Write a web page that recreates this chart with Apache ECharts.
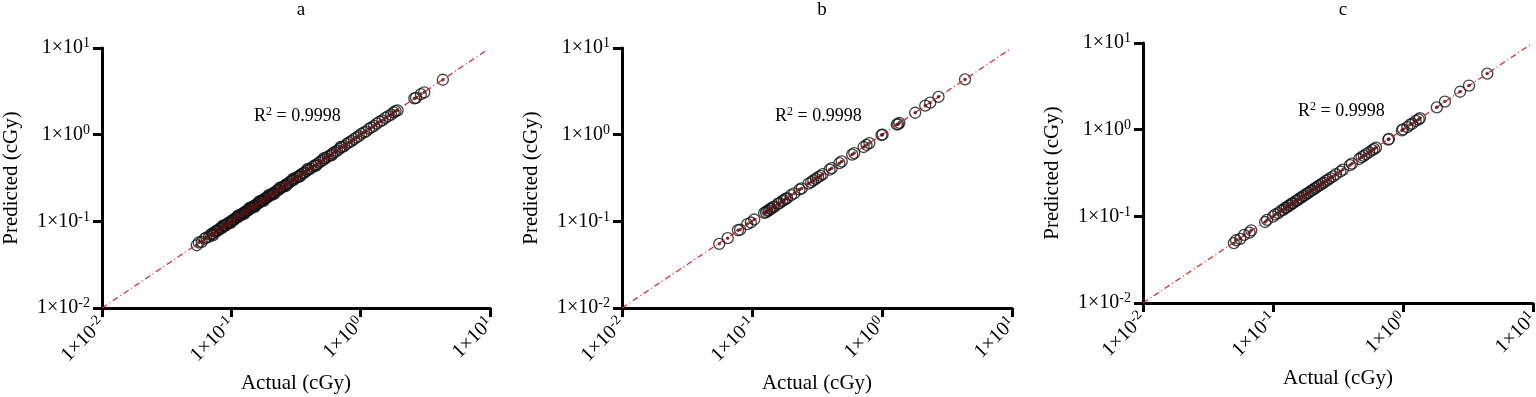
<!DOCTYPE html>
<html>
<head>
<meta charset="utf-8">
<script src="https://cdn.jsdelivr.net/npm/echarts@6/dist/echarts.min.js"></script>
<style>
  html, body { margin: 0; padding: 0; background: #fff; }
  #chart { width: 1536px; height: 397px; }
</style>
</head>
<body>
<div id="chart"></div>
<script>
// panel titles and fit text
var panelNames = ['a', 'b', 'c'];
var r2Values = ['0.9998', '0.9998', '0.9998'];
var fitLine = [0.01, 9.5];

// panel a
var actualA = [0.054, 0.056, 0.059, 0.062, 0.064, 0.067, 0.069, 0.071, 0.073, 0.075,
  0.077, 0.079, 0.081, 0.083, 0.085, 0.087, 0.089, 0.091, 0.093, 0.095,
  0.098, 0.100, 0.103, 0.105, 0.107, 0.110, 0.112, 0.114, 0.117, 0.119,
  0.122, 0.124, 0.127, 0.129, 0.132, 0.135, 0.138, 0.141, 0.144, 0.147,
  0.150, 0.153, 0.156, 0.160, 0.163, 0.167, 0.171, 0.175, 0.179, 0.183,
  0.187, 0.191, 0.196, 0.201, 0.206, 0.211, 0.216, 0.222, 0.228, 0.234,
  0.240, 0.247, 0.254, 0.261, 0.268, 0.276, 0.284, 0.293, 0.302, 0.312,
  0.322, 0.333, 0.344, 0.356, 0.368, 0.381, 0.395, 0.410, 0.425, 0.441,
  0.458, 0.476, 0.495, 0.515, 0.536, 0.558, 0.581, 0.605, 0.630, 0.657,
  0.685, 0.715, 0.746, 0.779, 0.813, 0.849, 0.887, 0.927, 0.968, 1.01,
  1.06, 1.10, 1.16, 1.21, 1.27, 1.33, 1.40, 1.47, 1.55, 1.63,
  1.72, 1.80, 1.86, 1.93, 2.60, 2.68, 2.92, 3.10, 4.32,
  0.072, 0.086, 0.099, 0.113, 0.126, 0.139, 0.152, 0.165, 0.178, 0.194,
  0.213, 0.237, 0.265, 0.298, 0.340, 0.390, 0.450, 0.520, 0.600, 0.700];
var predictedA = [0.053, 0.057, 0.058, 0.063, 0.065, 0.066, 0.070, 0.072, 0.072, 0.076,
  0.078, 0.078, 0.082, 0.084, 0.084, 0.088, 0.090, 0.090, 0.094, 0.096,
  0.097, 0.101, 0.104, 0.104, 0.108, 0.111, 0.111, 0.115, 0.118, 0.118,
  0.123, 0.125, 0.126, 0.130, 0.133, 0.134, 0.139, 0.142, 0.143, 0.148,
  0.151, 0.152, 0.157, 0.161, 0.162, 0.168, 0.172, 0.174, 0.180, 0.184,
  0.186, 0.192, 0.197, 0.199, 0.207, 0.212, 0.214, 0.223, 0.229, 0.232,
  0.241, 0.248, 0.252, 0.262, 0.269, 0.274, 0.285, 0.294, 0.299, 0.313,
  0.323, 0.330, 0.345, 0.357, 0.365, 0.382, 0.396, 0.406, 0.426, 0.442,
  0.454, 0.477, 0.496, 0.510, 0.537, 0.559, 0.576, 0.606, 0.631, 0.651,
  0.686, 0.716, 0.739, 0.780, 0.814, 0.841, 0.888, 0.928, 0.960, 1.02,
  1.06, 1.09, 1.17, 1.21, 1.26, 1.34, 1.41, 1.46, 1.56, 1.64,
  1.70, 1.81, 1.87, 1.91, 2.62, 2.66, 2.94, 3.08, 4.30,
  0.069, 0.089, 0.096, 0.117, 0.122, 0.144, 0.147, 0.171, 0.172, 0.201,
  0.206, 0.245, 0.256, 0.308, 0.329, 0.403, 0.436, 0.537, 0.582, 0.723];

// panel b
var actualB = [0.056, 0.065, 0.078, 0.081, 0.092, 0.098, 0.104, 0.124, 0.128, 0.131,
  0.135, 0.138, 0.141, 0.145, 0.149, 0.158, 0.163, 0.170, 0.176, 0.181,
  0.186, 0.200, 0.211, 0.232, 0.241, 0.272, 0.285, 0.296, 0.310, 0.322,
  0.336, 0.350, 0.395, 0.410, 0.470, 0.490, 0.590, 0.612, 0.722, 0.760,
  0.800, 0.990, 1.01, 1.30, 1.33, 1.36, 1.80, 2.15, 2.35, 2.72, 4.35];
var predictedB = [0.055, 0.064, 0.079, 0.080, 0.093, 0.097, 0.105, 0.125, 0.127, 0.132,
  0.134, 0.139, 0.140, 0.146, 0.148, 0.159, 0.162, 0.171, 0.175, 0.182,
  0.185, 0.201, 0.210, 0.233, 0.240, 0.273, 0.284, 0.297, 0.309, 0.323,
  0.335, 0.351, 0.394, 0.411, 0.469, 0.491, 0.589, 0.613, 0.721, 0.761,
  0.799, 0.991, 1.00, 1.31, 1.32, 1.37, 1.79, 2.16, 2.34, 2.73, 4.34];

// panel c
var actualC = [0.050, 0.052, 0.056, 0.060, 0.066, 0.068, 0.087, 0.090, 0.100, 0.104,
  0.110, 0.115, 0.120, 0.124, 0.128, 0.132, 0.136, 0.140, 0.143, 0.150,
  0.155, 0.160, 0.165, 0.170, 0.176, 0.182, 0.188, 0.195, 0.201, 0.208,
  0.215, 0.222, 0.230, 0.238, 0.246, 0.255, 0.265, 0.275, 0.290, 0.305,
  0.330, 0.345, 0.390, 0.405, 0.460, 0.480, 0.500, 0.520, 0.550, 0.580,
  0.600, 0.620, 0.770, 0.780, 0.980, 1.00, 1.08, 1.13, 1.18, 1.25,
  1.32, 1.35, 1.82, 2.10, 2.75, 3.22, 4.45];
var predictedC = [0.049, 0.053, 0.055, 0.061, 0.065, 0.069, 0.086, 0.091, 0.099, 0.105,
  0.109, 0.116, 0.119, 0.125, 0.127, 0.133, 0.135, 0.141, 0.142, 0.151,
  0.154, 0.161, 0.164, 0.171, 0.175, 0.183, 0.187, 0.196, 0.200, 0.209,
  0.214, 0.223, 0.229, 0.239, 0.245, 0.256, 0.264, 0.276, 0.289, 0.306,
  0.329, 0.346, 0.389, 0.406, 0.459, 0.481, 0.499, 0.521, 0.549, 0.581,
  0.599, 0.621, 0.769, 0.781, 0.979, 1.01, 1.07, 1.14, 1.17, 1.26,
  1.31, 1.36, 1.81, 2.11, 2.74, 3.23, 4.44];

var actuals = [actualA, actualB, actualC];
var predicteds = [predictedA, predictedB, predictedC];

var font = '"Liberation Serif", "Times New Roman", serif';
var grids = [
  { left: 102, top: 48, width: 388, height: 260 },
  { left: 622, top: 48, width: 390, height: 260 },
  { left: 1143, top: 43, width: 390, height: 260 }
];
var r2Pos = [[254, 106], [775, 106], [1298, 101]];
var titleX = [296, 817, 1338];

var supRich = {
  sup: { fontSize: 14, fontFamily: font, color: '#000', padding: [0, 0, 9, 0] }
};

function expLabel(v) {
  return '1×10{sup|' + Math.round(Math.log10(v)) + '}';
}

function makeAxis(idx, isX) {
  return {
    type: 'log',
    logBase: 10,
    min: 0.01,
    max: 10,
    gridIndex: idx,
    name: isX ? 'Actual (cGy)' : 'Predicted (cGy)',
    nameLocation: 'middle',
    nameGap: isX ? 64 : 80,
    nameTextStyle: { fontFamily: font, fontSize: 21, color: '#000' },
    axisLine: { show: true, lineStyle: { color: '#000', width: 3 } },
    axisTick: { show: true, length: 9, lineStyle: { color: '#000', width: 3 } },
    minorTick: { show: false },
    splitLine: { show: false },
    axisLabel: {
      formatter: expLabel,
      rotate: isX ? 45 : 0,
      margin: isX ? 13 : 12,
      fontFamily: font,
      fontSize: 20,
      color: '#000',
      rich: supRich
    }
  };
}

var chart = echarts.init(document.getElementById('chart'));

var option = {
  animation: false,
  title: [],
  grid: [],
  xAxis: [],
  yAxis: [],
  series: []
};

for (var i = 0; i < 3; i++) {
  option.grid.push(Object.assign({ containLabel: false, outerBoundsMode: 'none' }, grids[i]));
  option.xAxis.push(makeAxis(i, true));
  option.yAxis.push(makeAxis(i, false));

  option.title.push({
    text: panelNames[i],
    left: titleX[i],
    top: -4,
    textAlign: 'center',
    textStyle: { fontFamily: font, fontSize: 19, fontWeight: 'normal', color: '#000' }
  });
  option.title.push({
    text: 'R{sup|2} = ' + r2Values[i],
    left: r2Pos[i][0],
    top: r2Pos[i][1],
    padding: 0,
    textStyle: {
      fontFamily: font, fontSize: 18, fontWeight: 'normal', color: '#000',
      rich: { sup: { fontSize: 12, fontFamily: font, color: '#000', padding: [0, 0, 8, 0] } }
    }
  });

  var pts = actuals[i].map(function (a, k) { return [a, predicteds[i][k]]; });

  option.series.push({
    type: 'line',
    xAxisIndex: i,
    yAxisIndex: i,
    data: [[fitLine[0], fitLine[0]], [fitLine[1], fitLine[1]]],
    symbol: 'none',
    silent: true,
    z: 3,
    lineStyle: { color: '#e0202a', width: 1.2, type: [6, 3, 1, 3] }
  });
  option.series.push({
    type: 'scatter',
    xAxisIndex: i,
    yAxisIndex: i,
    data: pts,
    symbol: 'circle',
    symbolSize: 11,
    z: 2,
    itemStyle: { color: 'rgba(255,255,255,0)', borderColor: '#111', borderWidth: 1.3 }
  });
  option.series.push({
    type: 'scatter',
    xAxisIndex: i,
    yAxisIndex: i,
    data: pts,
    symbol: 'circle',
    symbolSize: 3.5,
    z: 4,
    itemStyle: { color: '#5a0c0c' }
  });
}

chart.setOption(option);
</script>
</body>
</html>
